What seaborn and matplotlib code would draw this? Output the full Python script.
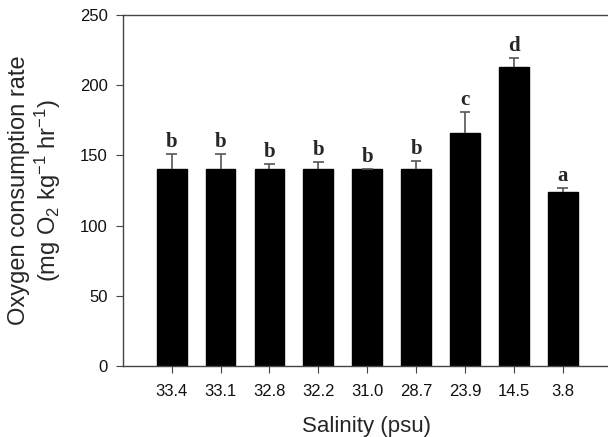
import matplotlib
matplotlib.use('Agg')
import matplotlib.pyplot as plt
import seaborn as sns
import numpy as np
import pandas as pd

# 塩分ごとの酸素消費速度
salinity = ['33.4', '33.1', '32.8', '32.2', '31.0', '28.7', '23.9', '14.5', '3.8']
rate = [140, 140, 140, 140.5, 140, 140, 166, 213, 124]
err = [11, 11, 3.5, 5, 0.5, 6, 15, 6.5, 3]
letters = ['b', 'b', 'b', 'b', 'b', 'b', 'c', 'd', 'a']

sns.set_style('ticks')
plt.rcParams['font.family'] = ['Liberation Sans', 'DejaVu Sans']
plt.rcParams['mathtext.fontset'] = 'custom'
plt.rcParams['mathtext.rm'] = 'Liberation Sans'
plt.rcParams['mathtext.it'] = 'Liberation Sans'

df = pd.DataFrame({'salinity': salinity, 'rate': rate})

fig = plt.figure(figsize=(6.08, 4.37), dpi=100)
ax = fig.add_axes([0.202, 0.1625, 0.80, 0.8035])

sns.barplot(data=df, x='salinity', y='rate', color='black', width=0.61,
            saturation=1, errorbar=None, ax=ax, edgecolor='black')

# 上側のみのエラーバー
x = np.arange(len(salinity))
top = np.array(rate) + np.array(err)
ax.vlines(x, rate, top, color='#555555', linewidth=1.2, zorder=3)
ax.hlines(top, x - 0.11, x + 0.11, color='#555555', linewidth=1.2, zorder=3)

for xi, t, lab in zip(x, top, letters):
    ax.text(xi, t + 1.5, lab, ha='center', va='bottom', fontsize=15,
            fontweight='bold', family='Liberation Serif')

ax.set_xlim(-1, 8.95)
ax.set_ylim(0, 250)
ax.set_yticks([0, 50, 100, 150, 200, 250])
ax.tick_params(axis='both', labelsize=12, direction='out', length=5,
               color='#444444', labelcolor='#111111')
ax.tick_params(axis='x', pad=8)
ax.tick_params(axis='y', pad=6)
ax.set_xlabel('Salinity (psu)', fontsize=16, labelpad=12)
ax.set_ylabel('Oxygen consumption rate\n(mg O$_2$ kg$^{-1}$ hr$^{-1}$)', fontsize=17,
              labelpad=12, linespacing=1.1)

for s in ['left', 'bottom', 'top']:
    ax.spines[s].set_color('#444444')
    ax.spines[s].set_linewidth(1.0)
ax.spines['right'].set_visible(False)

fig.savefig('out.png', dpi=100)
